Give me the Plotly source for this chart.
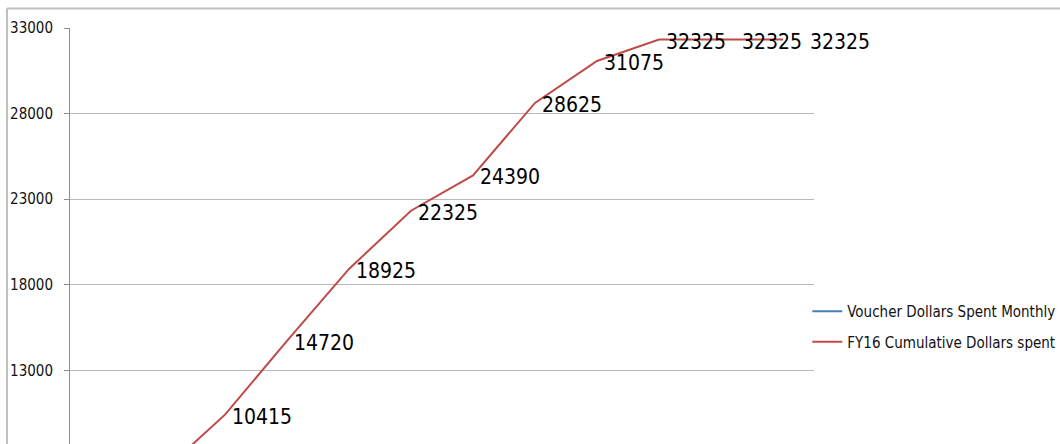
import plotly.graph_objects as go

# FY16 voucher spending by month
months = ["Oct", "Nov", "Dec", "Jan", "Feb", "Mar", "Apr", "May", "Jun", "Jul", "Aug", "Sep"]
monthly_spent = [3500, 3600, 3315, 4305, 4205, 3400, 2065, 4235, 2450, 1250, 0, 0]
cumulative_spent = [3500, 7100, 10415, 14720, 18925, 22325, 24390, 28625, 31075, 32325, 32325, 32325]

# horizontal nudge (px) for each cumulative label
label_shift = [5, 5, 5, 5, 5, 5, 5, 5, 5, 5, 19, 25]

Y_MIN, Y_MAX = 8700, 33000
FONT = "Liberation Sans Narrow, Arial Narrow, DejaVu Sans Condensed, sans-serif"
BLUE = "#4a7ebb"
RED = "#be4b48"

fig = go.Figure()
fig.add_trace(go.Scatter(
    x=months, y=monthly_spent, mode="lines", name="Voucher Dollars Spent Monthly",
    line=dict(color=BLUE, width=2), legendgroup="a", cliponaxis=True,
))
fig.add_trace(go.Scatter(
    x=months, y=cumulative_spent, mode="lines", name="FY16 Cumulative Dollars spent",
    line=dict(color=RED, width=2), legendgroup="b", cliponaxis=True,
))

annotations = []
for m, v, dx in zip(months, cumulative_spent, label_shift):
    if v < Y_MIN:
        continue
    annotations.append(dict(
        x=m, y=v, xref="x", yref="y", text=str(v), showarrow=False,
        xanchor="left", yanchor="middle", xshift=dx, yshift=-2,
        font=dict(family=FONT, size=21, color="#000000"),
    ))

fig.update_layout(
    width=1060, height=444,
    margin=dict(l=70, r=246, t=28, b=0, autoexpand=False),
    paper_bgcolor="white", plot_bgcolor="white",
    font=dict(family=FONT, color="#000000"),
    xaxis=dict(showgrid=False, showline=False, showticklabels=False, ticks="",
               zeroline=False, range=[-0.5, len(months) - 0.5]),
    yaxis=dict(range=[Y_MIN, Y_MAX], tick0=3000, dtick=5000, tickformat="d",
               showgrid=True, gridcolor="#b8b8b8", gridwidth=1,
               showline=True, linecolor="#8c8c8c", linewidth=1,
               ticks="outside", ticklen=5, tickcolor="#8c8c8c",
               ticklabelstandoff=8, zeroline=False,
               tickfont=dict(family=FONT, size=15, color="#111111")),
    showlegend=True,
    legend=dict(x=0.991, y=0.358, xanchor="left", yanchor="top",
                font=dict(family=FONT, size=15, color="#111111"),
                bgcolor="rgba(0,0,0,0)", tracegroupgap=8, itemwidth=30),
    annotations=annotations,
    shapes=[
        # outer chart border (top and left edges)
        dict(type="line", xref="paper", yref="paper", x0=-0.0847, x1=1.5, y0=1.0469, y1=1.0469,
             line=dict(color="#bfbfbf", width=2)),
        dict(type="line", xref="paper", yref="paper", x0=-0.0847, x1=-0.0847, y0=-0.1, y1=1.0469,
             line=dict(color="#bfbfbf", width=2)),
    ],
)

fig.write_html("out.html")
